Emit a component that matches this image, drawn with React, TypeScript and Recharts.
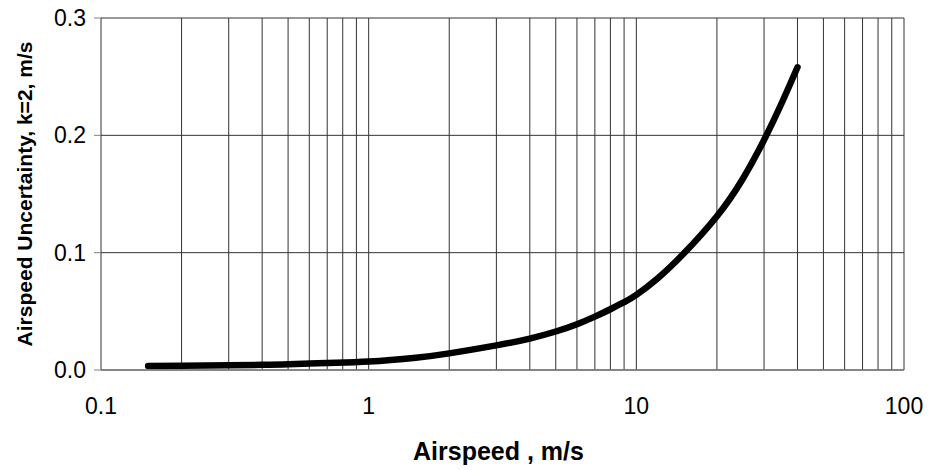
import React from 'react';
import {
  LineChart,
  Line,
  XAxis,
  YAxis,
  CartesianGrid,
  ReferenceLine,
  Label
} from 'recharts';

// Airspeed (m/s) and expanded uncertainty (k=2, m/s)
const airspeed = [0.15, 0.2, 0.3, 0.4, 0.5, 0.7, 1, 1.5, 2, 3, 4, 5, 6, 7, 8, 9, 10, 12, 15, 20, 25, 30, 35, 40];
const uncertainty = [
  0.0035, 0.0036, 0.004, 0.0044, 0.0049, 0.006, 0.0072, 0.0105, 0.0142, 0.021, 0.0268, 0.0328,
  0.039, 0.0455, 0.0518, 0.0578, 0.064, 0.078, 0.099, 0.131, 0.163, 0.196, 0.228, 0.258
];

const xTicks = [0.1, 1, 10, 100];
const yTicks = [0, 0.1, 0.2, 0.3];
// log grid: every 1..9 step within each decade
const xGrid = [
  0.1, 0.2, 0.3, 0.4, 0.5, 0.6, 0.7, 0.8, 0.9,
  1, 2, 3, 4, 5, 6, 7, 8, 9,
  10, 20, 30, 40, 50, 60, 70, 80, 90, 100
];

const data = airspeed.map((v, i) => ({ v, u: uncertainty[i] }));

const FONT = '"Liberation Sans", Arial, Helvetica, sans-serif';

const YTitle = ({ viewBox }: any) => {
  const cx = 24;
  const cy = viewBox.y + viewBox.height / 2;
  return (
    <text
      x={cx}
      y={cy}
      transform={`rotate(-90, ${cx}, ${cy})`}
      textAnchor="middle"
      dominantBaseline="central"
      fontFamily={FONT}
      fontWeight="bold"
      fontSize={21}
      fill="#000"
    >
      Airspeed Uncertainty, k=2, m/s
    </text>
  );
};

export default function App() {
  return (
    <div style={{ position: 'absolute', left: 0, top: 0, background: '#fff' }}>
      <LineChart
        width={930}
        height={470}
        data={data}
        margin={{ top: 18, right: 26, left: 0, bottom: 40 }}
      >
        <CartesianGrid vertical={false} stroke="#333" strokeWidth={1} />
        {xGrid.map((g) => (
          <ReferenceLine key={g} x={g} stroke="#333" strokeWidth={1} />
        ))}
        <XAxis
          dataKey="v"
          type="number"
          scale="log"
          domain={[0.1, 100]}
          ticks={xTicks}
          allowDataOverflow
          height={60}
          tickLine={false}
          tickSize={6}
          tickMargin={22}
          axisLine={{ stroke: '#808080', strokeWidth: 1.5 }}
          tick={{ fill: '#000', fontSize: 23, fontFamily: FONT }}
        >
          <Label
            value="Airspeed , m/s"
            position="bottom"
            offset={12}
            dx={-4}
            style={{ fill: '#000', fontSize: 25, fontWeight: 'bold', fontFamily: FONT }}
          />
        </XAxis>
        <YAxis
          type="number"
          domain={[0, 0.3]}
          ticks={yTicks}
          width={101}
          tickSize={7}
          tickMargin={8}
          tickFormatter={(t: number) => t.toFixed(1)}
          axisLine={false}
          tickLine={{ stroke: '#808080' }}
          tick={{ fill: '#000', fontSize: 23, fontFamily: FONT }}
          label={<YTitle />}
        />
        <Line
          type="natural"
          dataKey="u"
          stroke="#000"
          strokeWidth={6.5}
          strokeLinecap="round"
          dot={false}
          isAnimationActive={false}
        />
      </LineChart>
    </div>
  );
}
